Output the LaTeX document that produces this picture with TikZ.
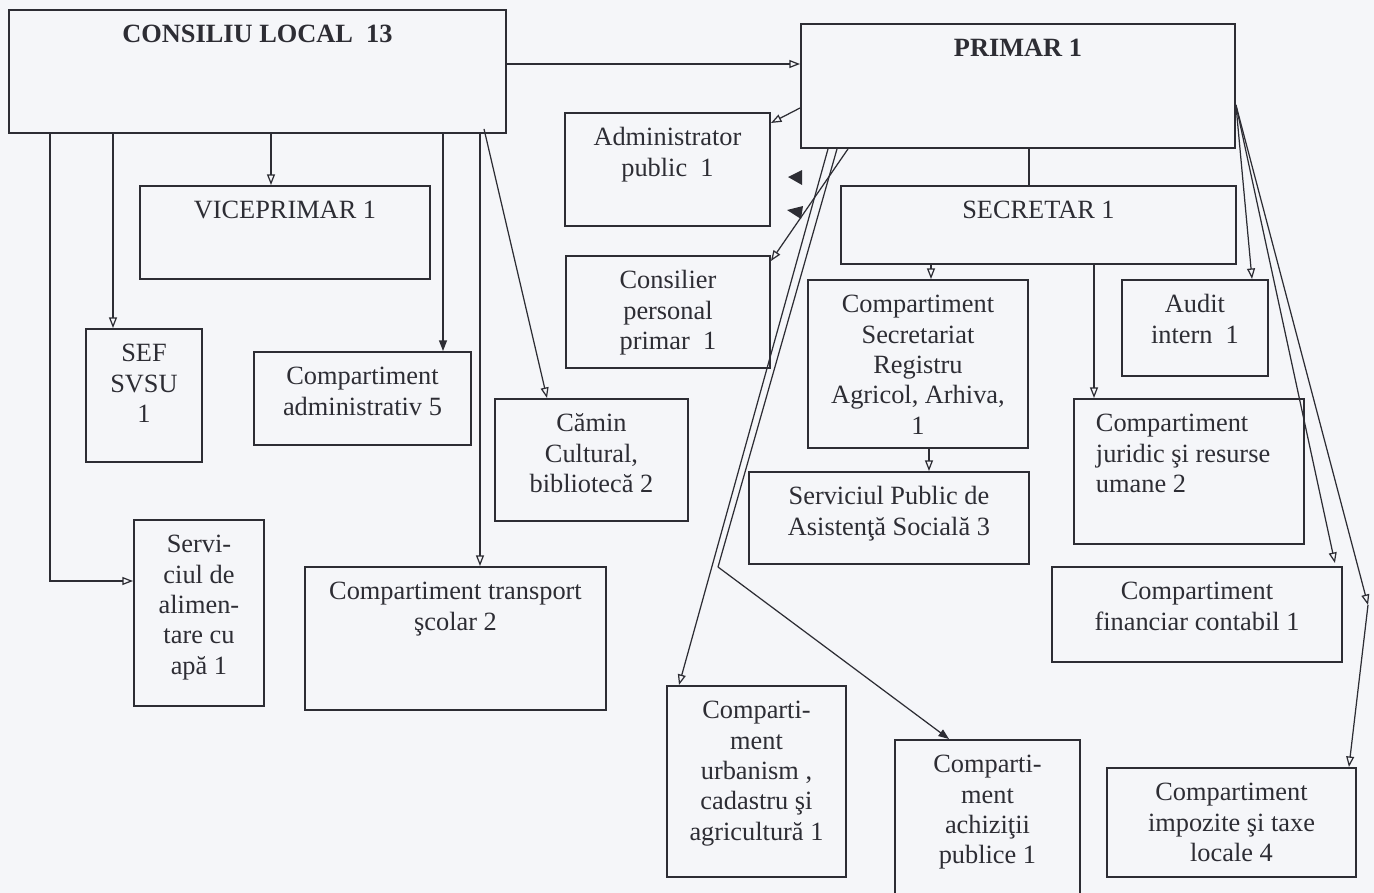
\documentclass[tikz,border=0pt]{standalone}
\usepackage{fontspec}
\setmainfont{Liberation Serif}
\usetikzlibrary{arrows.meta, calc}
\usepackage{xcolor}
\definecolor{paper}{RGB}{245,246,249}
\definecolor{ink}{RGB}{45,45,52}
\newlength\unitpx
\setlength\unitpx{0.2mm}
\tikzset{
  box/.style 2 args={draw=ink, line width=1.1pt, inner sep=0pt, anchor=north west, text=ink,
    font=\fontsize{15}{17.3}\selectfont,
    execute at begin node={\begin{minipage}[c][#2\unitpx][t]{#1\unitpx}\centering\vspace*{0.23cm}\strut},
    execute at end node={\end{minipage}}},
  link/.style={draw=ink, line width=0.7pt},
  arr/.style={link, -{Triangle[open, length=6pt, width=4.5pt]}},
  arrs/.style={link, -{Triangle[length=6pt, width=4.5pt]}},
}

\begin{document}
\begin{tikzpicture}[x=0.2mm, y=-0.2mm]
\fill[paper] (0,0) rectangle (1374,893);
\useasboundingbox (0,0) rectangle (1374,893);
%council side
\node[box={497}{123}] (cl) at (8,9) {\textbf{CONSILIU LOCAL\ \ 13}};
\node[box={290}{93}] (vice) at (139,185) {VICEPRIMAR 1};
\node[box={116}{133}] (svsu) at (85,328) {SEF\\SVSU\\1};
\node[box={217}{93}] (cadm) at (253,351) {Compartiment\\administrativ 5};
\node[box={193}{122}] (camin) at (494,398) {Cămin\\Cultural,\\bibliotecă 2};
\node[box={130}{186}] (apa) at (133,519) {Servi-\\ciul de\\alimen-\\tare cu\\apă 1};
\node[box={301}{143}] (transp) at (304,566) {Compartiment transport\\şcolar 2};
%mayor side
\node[box={434}{124}] (primar) at (800,23) {\textbf{PRIMAR 1}};
\node[box={205}{113}] (admin) at (564,112) {Administrator\\public\ \ 1};
\node[box={204}{112}] (consp) at (565,255) {Consilier\\personal\\primar\ \ 1};
\node[box={395}{78}] (secr) at (840,185) {SECRETAR 1};
\node[box={220}{168}] (csec) at (807,279) {Compartiment\\Secretariat\\Registru\\Agricol, Arhiva,\\1};
\node[box={280}{92}] (spas) at (748,471) {Serviciul Public de\\Asistenţă Socială 3};
\node[box={146}{96}] (audit) at (1121,279) {Audit\\intern\ \ 1};
\node[box={230}{145}] (jur) at (1073,398) {\raggedright\leftskip=22\unitpx Compartiment\\juridic şi resurse\\umane 2\par};
\node[box={290}{95}] (fin) at (1051,566) {Compartiment\\financiar contabil 1};
\node[box={179}{191}] (urb) at (666,685) {Comparti-\\ment\\urbanism ,\\cadastru şi\\agricultură 1};
\node[box={185}{170}] (achiz) at (894,739) {Comparti-\\ment\\achiziţii\\publice 1};
\node[box={249}{109}] (impoz) at (1106,767) {Compartiment\\impozite şi taxe\\locale 4};
%council links
\draw[arr] ($(cl.north east)+(0,55)$) -- ($(primar.north west)+(0,41)$);
\draw[arr] ($(cl.south west)+(263,0)$) -- ($(vice.north west)+(132,0)$);
\draw[arr] ($(cl.south west)+(105,0)$) -- ($(svsu.north west)+(28,0)$);
\draw[arr] ($(cl.south west)+(42,0)$) |- ($(apa.north west)+(0,62)$);
\draw[arrs] ($(cl.south west)+(435,0)$) -- ($(cadm.north west)+(190,0)$);
\draw[arr] ($(cl.south west)+(472,0)$) -- ($(transp.north west)+(176,0)$);
\draw[arr] ($(cl.south west)+(476,-5)$) -- ($(camin.north west)+(53,0)$);
%mayor links
\draw[arr] ($(primar.north west)+(0,85)$) -- ($(admin.north east)+(0,11)$);
\draw[arr] ($(primar.south west)+(48,0)$) -- ($(consp.north east)+(0,6)$);
\draw[link] ($(primar.south west)+(229,0)$) -- ($(secr.north west)+(189,0)$);
\draw[arr] ($(primar.south west)+(28,0)$) -- ($(urb.north west)+(13,0)$);
\coordinate (bend) at (718,567);
\draw[link] ($(primar.south west)+(37,0)$) -- (bend);
\draw[arrs] (bend) -- ($(achiz.north west)+(55,0)$);
\draw[arr] ($(primar.north east)+(0,82)$) -- ($(audit.north west)+(131,0)$);
\draw[arr] ($(primar.north east)+(0,82)$) -- ($(fin.north east)+(-8,-3)$);
\coordinate (turn) at (1368,605);
\draw[arr] ($(primar.north east)+(0,82)$) -- (turn);
\draw[arr] (turn) -- ($(impoz.north east)+(-8,0)$);
%secretary links
\draw[arr] ($(secr.south west)+(91,0)$) -- ($(csec.north west)+(124,0)$);
\draw[arr] ($(csec.south west)+(122,0)$) -- ($(spas.north west)+(181,0)$);
\draw[arr] ($(secr.south west)+(254,0)$) -- ($(jur.north west)+(21,0)$);
%stray marks
\fill[ink] (802,170) -- (788,177) -- (802,185) -- cycle;
\fill[ink] (803,206) -- (787,210) -- (801,219) -- cycle;
\end{tikzpicture}
\end{document}
